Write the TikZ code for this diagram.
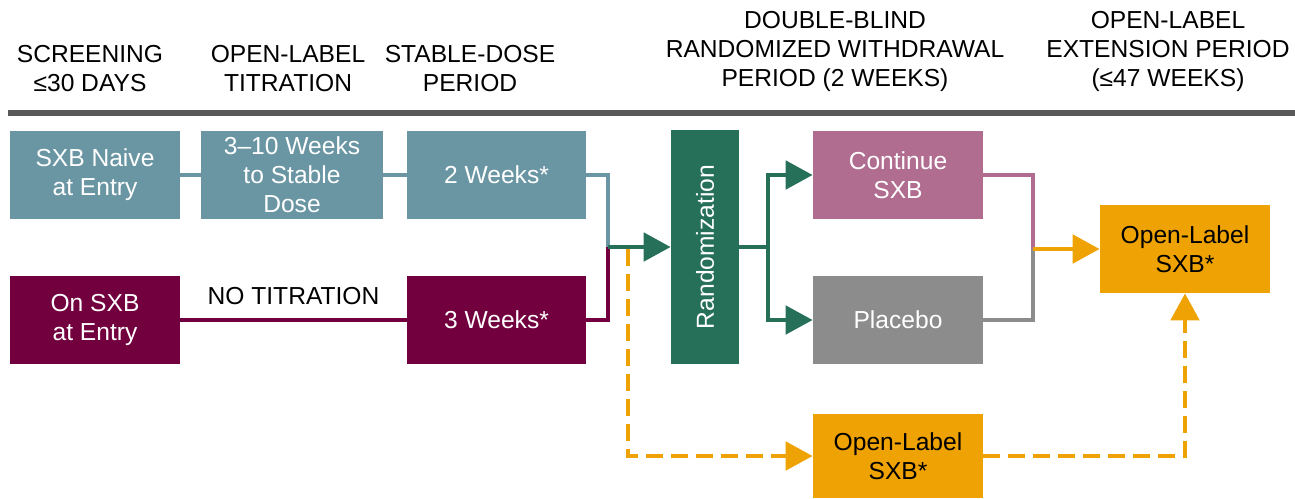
\documentclass[tikz,border=0pt]{standalone}
\usepackage{fontspec}
\setmainfont{Liberation Sans}
\usetikzlibrary{arrows.meta}
\definecolor{steel}{HTML}{6A96A4}
\definecolor{wine}{HTML}{72003F}
\definecolor{pine}{HTML}{26705A}
\definecolor{rose}{HTML}{B06D90}
\definecolor{ash}{HTML}{8C8C8C}
\definecolor{amber}{HTML}{EEA204}
\definecolor{rulegray}{HTML}{595959}
\tikzset{
  box/.style={rectangle, minimum width=3.4cm, minimum height=1.76cm,
    inner sep=0pt, align=center, text=white},
  head/.style={align=center, inner sep=0pt, anchor=south},
  link/.style={line width=2.8pt},
  tip/.style={-{Triangle[length=0.54cm,width=0.56cm]}},
  dashlink/.style={link, dash pattern=on 0.34cm off 0.16cm},
}
\begin{document}
\begin{tikzpicture}[x=0.02cm,y=-0.02cm,font=\fontsize{14}{16.5}\selectfont]
        \useasboundingbox (0,0) rectangle (1295,498);
        %% Period headings
        \node[head] (hscr) at (90,92) {SCREENING\\≤30 DAYS};
        \node[head] (htit) at (288,92) {OPEN-LABEL\\TITRATION};
        \node[head] (hsta) at (470,92) {STABLE-DOSE\\PERIOD};
        \node[head] (hdbl) at (835,92) {DOUBLE-BLIND\\RANDOMIZED WITHDRAWAL\\PERIOD (2 WEEKS)};
        \node[head] (hext) at (1168,92) {OPEN-LABEL\\EXTENSION PERIOD\\(≤47 WEEKS)};
        \draw[line width=3.4pt,rulegray] (8,113) -- (1295,113);
        %% Boxes
        \node[box,fill=steel] (naive) at (95,175) {SXB Naive\\at Entry};
        \node[box,fill=steel,minimum width=3.64cm] (titr) at (292,175) {3–10 Weeks\\to Stable\\Dose};
        \node[box,fill=steel,minimum width=3.58cm] (stable) at (496.5,175) {2 Weeks*};
        \node[box,fill=wine] (onsxb) at (95,320) {On SXB\\at Entry};
        \node[box,fill=wine,minimum width=3.58cm] (three) at (496.5,320) {3 Weeks*};
        \node[box,fill=pine,minimum width=1.36cm,minimum height=4.68cm] (rand) at (705,247) {\rotatebox{90}{Randomization}};
        \node[box,fill=rose] (cont) at (898,175) {Continue\\SXB};
        \node[box,fill=ash] (plac) at (898,320) {Placebo};
        \node[box,fill=amber,text=black] (olext) at (1185,249) {Open-Label\\SXB*};
        \node[box,fill=amber,text=black,minimum height=1.68cm] (oldir) at (898,456) {Open-Label\\SXB*};
        %% Junctions
        \coordinate (join) at (608,247);
        \coordinate (drop) at (628,249);
        \coordinate (split) at (768,247);
        \coordinate (merge) at (1033,249);
        %% Entry paths
        \draw[link,steel] (naive) -- (titr);
        \draw[link,steel] (titr) -- (stable);
        \draw[link,steel] (stable.east) -| (join);
        \draw[link,wine] (onsxb) -- (three) node[midway,above=4pt,text=black] (notit) {NO TITRATION};
        \draw[link,wine] (three.east) -| (join);
        \draw[link,pine,tip] (join) -- (join -| rand.west);
        %% Withdrawal
        \draw[link,pine] (rand.east |- split) -- (split);
        \draw[link,pine,tip] (split) |- (cont.west);
        \draw[link,pine,tip] (split) |- (plac.west);
        \draw[link,rose] (cont.east) -| (merge);
        \draw[link,ash] (plac.east) -| (merge);
        \draw[link,amber,tip] (merge) -- (olext.west);
        %% Direct open-label route
        \draw[dashlink,amber,tip] (drop) |- (oldir.west);
        \draw[dashlink,amber,tip] (oldir.east) -| (olext.south);
    \end{tikzpicture}
\end{document}
